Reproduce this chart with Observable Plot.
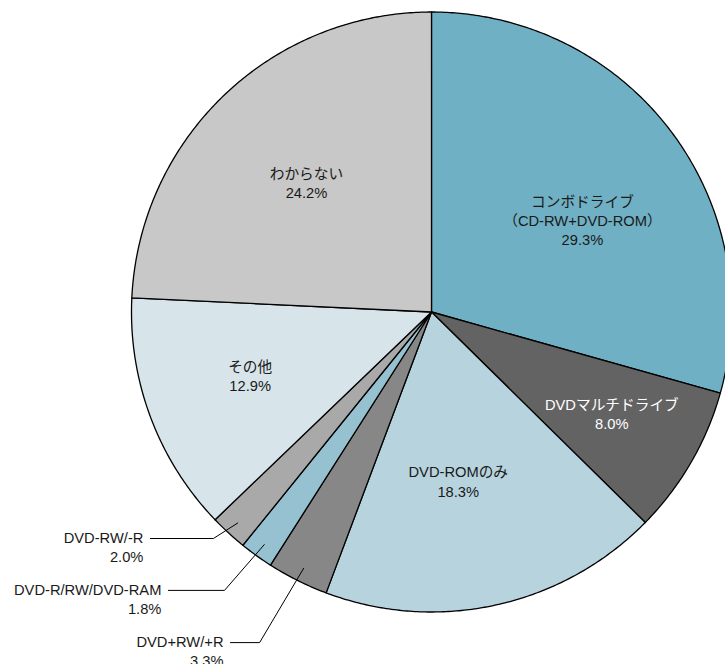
<!DOCTYPE html>
<html>
<head>
<meta charset="utf-8">
<script src="https://cdn.jsdelivr.net/npm/d3@7"></script>
<script src="https://cdn.jsdelivr.net/npm/@observablehq/plot@0.6"></script>
<style>
  html, body { margin: 0; padding: 0; background: #fff; overflow: hidden; }
  #chart svg { display: block; }
</style>
</head>
<body>
<div id="chart"></div>
<script>
// ---- data ----
const categories = [
  "コンボドライブ\n（CD-RW+DVD-ROM）",
  "DVDマルチドライブ",
  "DVD-ROMのみ",
  "DVD+RW/+R",
  "DVD-R/RW/DVD-RAM",
  "DVD-RW/-R",
  "その他",
  "わからない"
];
const shares = [29.3, 8.0, 18.3, 3.3, 1.8, 2.0, 12.9, 24.2];
const colors = ["#70b0c4", "#636363", "#b7d3de", "#878787", "#95c1d0", "#a9a9a9", "#d7e4ea", "#c8c8c8"];
const textColors = ["#1a1a1a", "#ffffff", "#1a1a1a", null, null, null, "#1a1a1a", "#1a1a1a"];

// ---- layout (unit-circle coordinates) ----
// inside labels: [radius fraction, angle in degrees clockwise from 12 o'clock]
const insideLabelPos = {0: [0.59, 58.5], 1: [0.69, 119.4], 2: [0.57, 171], 6: [0.64, 250.8], 7: [0.6, 316]};
// callouts: elbow point and left end of horizontal leader
const callouts = {
  5: {elbow: [-0.727, -0.755], end: -0.937},
  4: {elbow: [-0.69, -0.928], end: -0.877},
  3: {elbow: [-0.573, -1.102], end: -0.67}
};

const pie = d3.pie().sort(null).value(d => d.value)(
  shares.map((v, i) => ({i, value: v}))
);
const polar = (r, a) => [r * Math.sin(a), r * Math.cos(a)];

const slicePts = [];
pie.forEach(p => {
  const i = p.data.i;
  slicePts.push({key: i, x: 0, y: 0, color: colors[i]});
  const steps = Math.max(4, Math.ceil((p.endAngle - p.startAngle) / (Math.PI / 360)));
  for (let s = 0; s <= steps; s++) {
    const a = p.startAngle + (p.endAngle - p.startAngle) * s / steps;
    const [x, y] = polar(1, a);
    slicePts.push({key: i, x, y, color: colors[i]});
  }
});

const fmt = v => v.toFixed(1) + "%";
const insideLabels = Object.entries(insideLabelPos).map(([k, [r, deg]]) => {
  const i = +k;
  const [x, y] = polar(r, deg * Math.PI / 180);
  return {x, y, text: categories[i] + "\n" + fmt(shares[i]), fill: textColors[i]};
});

const leaderPts = [];
const calloutLabels = [];
pie.forEach(p => {
  const i = p.data.i;
  const c = callouts[i];
  if (!c) return;
  const mid = (p.startAngle + p.endAngle) / 2;
  const [ix, iy] = polar(0.955, mid);
  leaderPts.push({key: i, x: ix, y: iy});
  leaderPts.push({key: i, x: c.elbow[0], y: c.elbow[1]});
  leaderPts.push({key: i, x: c.end, y: c.elbow[1]});
  calloutLabels.push({x: c.end, y: c.elbow[1], name: categories[i], pct: fmt(shares[i])});
});

const font = "'Liberation Sans', Arial, Helvetica, 'Noto Sans CJK JP', sans-serif";

const chart = Plot.plot({
  width: 725,
  height: 664,
  margin: 0,
  x: {domain: [-1, 1], range: [131, 731], axis: null},
  y: {domain: [-1, 1], range: [611.5, 11.5], axis: null},
  color: {type: "identity"},
  style: {fontFamily: font, background: "#fff", overflow: "visible"},
  marks: [
    Plot.line(slicePts, {x: "x", y: "y", z: "key", fill: "color", stroke: "#000", strokeWidth: 1.3, strokeLinejoin: "round", curve: "linear-closed"}),
    Plot.line(leaderPts, {x: "x", y: "y", z: "key", stroke: "#000", strokeWidth: 1}),
    Plot.text(insideLabels, {x: "x", y: "y", text: "text", fill: "fill", fontSize: 14.7, lineHeight: 1.3, textAnchor: "middle", fontFamily: font}),
    Plot.text(calloutLabels, {x: "x", y: "y", text: "name", dx: -7, textAnchor: "end", fontSize: 14.7, fill: "#1a1a1a", fontFamily: font}),
    Plot.text(calloutLabels, {x: "x", y: "y", text: "pct", dx: -7, dy: 19, textAnchor: "end", fontSize: 14.7, fill: "#1a1a1a", fontFamily: font})
  ]
});
document.getElementById("chart").appendChild(chart);
</script>
</body>
</html>
